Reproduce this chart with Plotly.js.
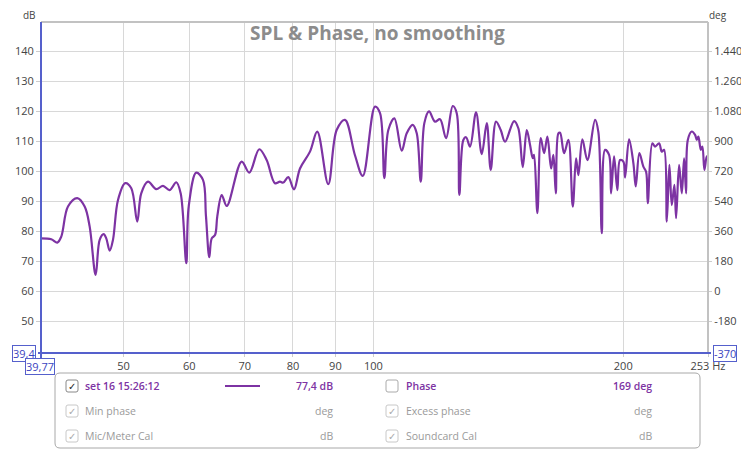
<!DOCTYPE html>
<html><head><meta charset="utf-8">
<script src="https://cdn.plot.ly/plotly-3.0.1.min.js"></script>
<style>html,body{margin:0;padding:0;background:#fff;}#chart{width:741px;height:449px;}</style>
</head><body><div id="chart"></div>
<script>
// ---- data ----
const freqHz = [39.77,40.92,41.61,42.07,42.86,43.98,44.89,45.52,46.28,46.80,47.32,47.66,48.12,48.56,49.24,
50.24,51.09,51.94,52.52,53.51,54.75,55.78,56.83,57.88,58.59,59.51,59.91,61.18,62.33,62.85,63.43,63.86,64.45,64.86,
65.66,66.58,69.39,70.87,72.86,74.37,76.10,77.17,77.88,78.97,80.23,81.58,83.87,85.58,88.23,90.31,92.42,95.02,97.10,
100.45,101.86,103.08,104.23,105.98,108.18,109.69,111.53,112.78,114.04,115.18,116.69,118.65,120.31,122.33,124.63,
126.01,126.93,128.34,129.31,130.75,132.95,135.07,136.96,138.47,140.52,142.37,144.08,147.73,149.50,151.34,153.03,
154.44,155.60,156.16,157.60,159.10,160.56,162.04,163.71,164.76,165.86,167.06,167.85,169.72,171.76,173.86,175.46,
176.59,178.56,181.05,184.96,186.66,188.43,190.16,192.28,193.35,194.97,196.76,198.24,200.06,201.01,203.25,205.69,
207.06,209.15,211.48,213.08,214.08,216.83,218.46,220.90,222.56,223.98,225.67,227.30,228.82,230.48,231.57,233.50,
235.26,236.77,238.09,239.21,241.88,244.10,245.26,246.35,248.00,249.10,250.49,252.16,253.00];
const splDb = [77.6,77.3,76.2,78.2,88.2,91.0,88.2,81.5,65.4,77.1,79.0,77.6,73.5,77.1,90.4,
96.0,94.3,83.2,92.6,96.5,94.0,95.1,93.7,96.3,92.6,69.3,88.2,99.5,97.1,85.0,71.3,77.6,78.7,85.0,
92.0,88.4,103.2,99.5,107.3,103.7,96.0,96.5,96.2,98.0,93.9,100.9,106.5,113.2,95.7,113.7,117.1,105.3,98.4,
121.5,119.3,97.7,113.7,117.6,106.8,112.6,115.4,112.6,96.5,116.0,119.9,116.5,117.3,111.0,121.7,
119.3,92.1,110.4,111.3,108.2,119.6,105.7,116.0,100.4,116.5,113.7,109.8,116.7,114.3,101.3,113.7,
108.7,104.3,105.4,86.0,111.0,106.0,111.5,100.9,105.4,92.6,112.6,112.8,106.0,110.4,88.2,104.3,
98.7,110.6,103.7,117.1,113.0,79.3,107.1,105.4,92.6,104.9,93.7,103.7,103.2,97.9,110.6,102.7,
94.9,106.0,101.5,99.8,89.3,109.3,108.2,109.3,106.5,107.1,83.2,102.1,88.7,95.4,84.3,102.1,
92.6,104.3,92.6,110.4,113.2,112.1,110.4,111.5,107.1,108.2,100.4,104.9,104.3];
const dbTicks = [50,60,70,80,90,100,110,120,130,140];
const degTicks = [-180,0,180,360,540,720,900,1080,1260,1440];
const degTickText = ['-180','0','180','360','540','720','900','1.080','1.260','1.440'];
const freqTicks = [50,60,70,80,90,100,200,253];
const freqTickText = ['50','60','70','80','90','100','200','253 Hz'];
const titleText = 'SPL & Phase, no smoothing';
const traceName = 'set 16 15:26:12';
const traceLevel = '77,4 dB';
const phaseLevel = '169 deg';
const xMin = 39.77, xMax = 253, yMin = 39.4, yMax = 149.7;

// ---- layout helpers (pixel -> paper) ----
const L = 41, R = 708, T = 22, B = 353;
const px = x => (x - L) / (R - L);
const py = y => (B - y) / (B - T);
const purple = '#7d33a3';
const blue = '#5560cc';
const grey = '#9a9a9a';
const FF = 'Open Sans, Liberation Sans, sans-serif';

const ann = [];
function A(text, x, y, o) {
  ann.push(Object.assign({text: text, x: px(x), y: py(y), xref: 'paper', yref: 'paper',
    showarrow: false, xanchor: 'left', yanchor: 'middle',
    font: {family: FF, size: 10.5, color: grey}}, o || {}));
}
A(titleText, 377, 33, {xanchor: 'center', font: {family: FF, size: 19, color: '#8c8c8c', weight: 700}});
A('dB', 29, 15, {xanchor: 'center', font: {family: FF, size: 10, color: '#444'}});
A('deg', 718, 15, {xanchor: 'center', font: {family: FF, size: 10, color: '#444'}});
const boxFont = {family: FF, size: 11, color: '#3a44c0'};
A('39,4', 24, 353, {xanchor: 'center', font: boxFont, bordercolor: blue, borderwidth: 1, borderpad: 0, bgcolor: '#fff'});
A('39,77', 40, 366, {xanchor: 'center', font: boxFont, bordercolor: blue, borderwidth: 1, borderpad: 0, bgcolor: '#fff'});
A('-370', 725, 353, {xanchor: 'center', font: boxFont, bordercolor: blue, borderwidth: 1, borderpad: 0, bgcolor: '#fff'});

// legend panel texts
const rows = [386, 411, 436];
const pfont = {family: FF, size: 10.5, color: purple, weight: 600};
A(traceName, 83, rows[0], {font: pfont});
A(traceLevel, 335, rows[0], {xanchor: 'right', font: pfont});
A('Phase', 404, rows[0], {font: pfont});
A(phaseLevel, 654, rows[0], {xanchor: 'right', font: pfont});
A('Min phase', 83, rows[1]);
A('deg', 335, rows[1], {xanchor: 'right'});
A('Excess phase', 404, rows[1]);
A('deg', 654, rows[1], {xanchor: 'right'});
A('Mic/Meter Cal', 83, rows[2]);
A('dB', 335, rows[2], {xanchor: 'right'});
A('Soundcard Cal', 404, rows[2]);
A('dB', 654, rows[2], {xanchor: 'right'});

const shapes = [];
function line(x0, y0, x1, y1, color, w) {
  shapes.push({type: 'line', xref: 'paper', yref: 'paper', x0: px(x0), y0: py(y0), x1: px(x1), y1: py(y1),
    line: {color: color, width: w}, layer: 'above'});
}
function rrect(x0, y0, x1, y1, r, color, w) {
  const p = (x, y) => px(x) + ',' + py(y);
  const path = 'M' + p(x0 + r, y0) + ' L' + p(x1 - r, y0) + ' Q' + p(x1, y0) + ' ' + p(x1, y0 + r) +
    ' L' + p(x1, y1 - r) + ' Q' + p(x1, y1) + ' ' + p(x1 - r, y1) + ' L' + p(x0 + r, y1) +
    ' Q' + p(x0, y1) + ' ' + p(x0, y1 - r) + ' L' + p(x0, y0 + r) + ' Q' + p(x0, y0) + ' ' + p(x0 + r, y0) + ' Z';
  shapes.push({type: 'path', xref: 'paper', yref: 'paper', path: path, line: {color: color, width: w},
    fillcolor: 'rgba(255,255,255,0)', layer: 'above'});
}
// plot frame
line(L, T, R, T, '#c2c2c2', 2);
line(R, T, R, B, '#c2c2c2', 2);
line(L, T, L, 360, blue, 2);
line(38, B, 711, B, blue, 2);
// legend panel
rrect(55, 373, 700, 448, 5, '#a8a8a8', 1);
// checkboxes
[[72, 0, '#888', true], [392, 0, '#aaa', false], [72, 1, '#c8c8c8', true], [392, 1, '#c8c8c8', true],
 [72, 2, '#c8c8c8', true], [392, 2, '#c8c8c8', true]].forEach(function (c) {
  rrect(c[0] - 6, rows[c[1]] - 6, c[0] + 6, rows[c[1]] + 6, 2, c[2], 1);
  if (c[3]) A('✓', c[0], rows[c[1]], {xanchor: 'center',
    font: {family: 'DejaVu Sans', size: 10, color: c[1] === 0 ? '#222' : '#aaa'}});
});
line(225, rows[0], 260, rows[0], purple, 2);

const traces = [
  {x: freqHz, y: splDb, type: 'scatter', mode: 'lines', name: traceName,
   line: {color: purple, width: 2.2, shape: 'spline', smoothing: 1}, hoverinfo: 'x+y'},
  {x: [], y: [], type: 'scatter', mode: 'lines', yaxis: 'y2', showlegend: false, hoverinfo: 'skip'}
];
const tickFont = {family: FF, size: 11, color: '#444'};
const layout = {
  width: 741, height: 449,
  margin: {l: L, r: 741 - R, t: T, b: 449 - B, pad: 0},
  paper_bgcolor: '#fff', plot_bgcolor: '#fff',
  showlegend: false,
  xaxis: {type: 'log', range: [Math.log10(xMin), Math.log10(xMax)], tickvals: freqTicks, ticktext: freqTickText,
    showgrid: true, gridcolor: '#d8d8d8', gridwidth: 1, zeroline: false, showline: false,
    ticks: 'outside', ticklen: 3, tickcolor: '#ccc', tickfont: tickFont},
  yaxis: {range: [yMin, yMax], tickvals: dbTicks, showgrid: true, gridcolor: '#d8d8d8', gridwidth: 1,
    zeroline: false, showline: false, ticks: 'outside', ticklen: 4, tickcolor: '#ccc', tickfont: tickFont},
  yaxis2: {overlaying: 'y', side: 'right', range: [(yMin - 60) * 18, (yMax - 60) * 18], tickvals: degTicks,
    ticktext: degTickText, showgrid: false, zeroline: false, showline: false, ticks: 'outside', ticklen: 3,
    tickcolor: '#ccc', tickfont: tickFont},
  annotations: ann,
  shapes: shapes
};
Plotly.newPlot('chart', traces, layout, {displayModeBar: false, staticPlot: true});
</script></body></html>
